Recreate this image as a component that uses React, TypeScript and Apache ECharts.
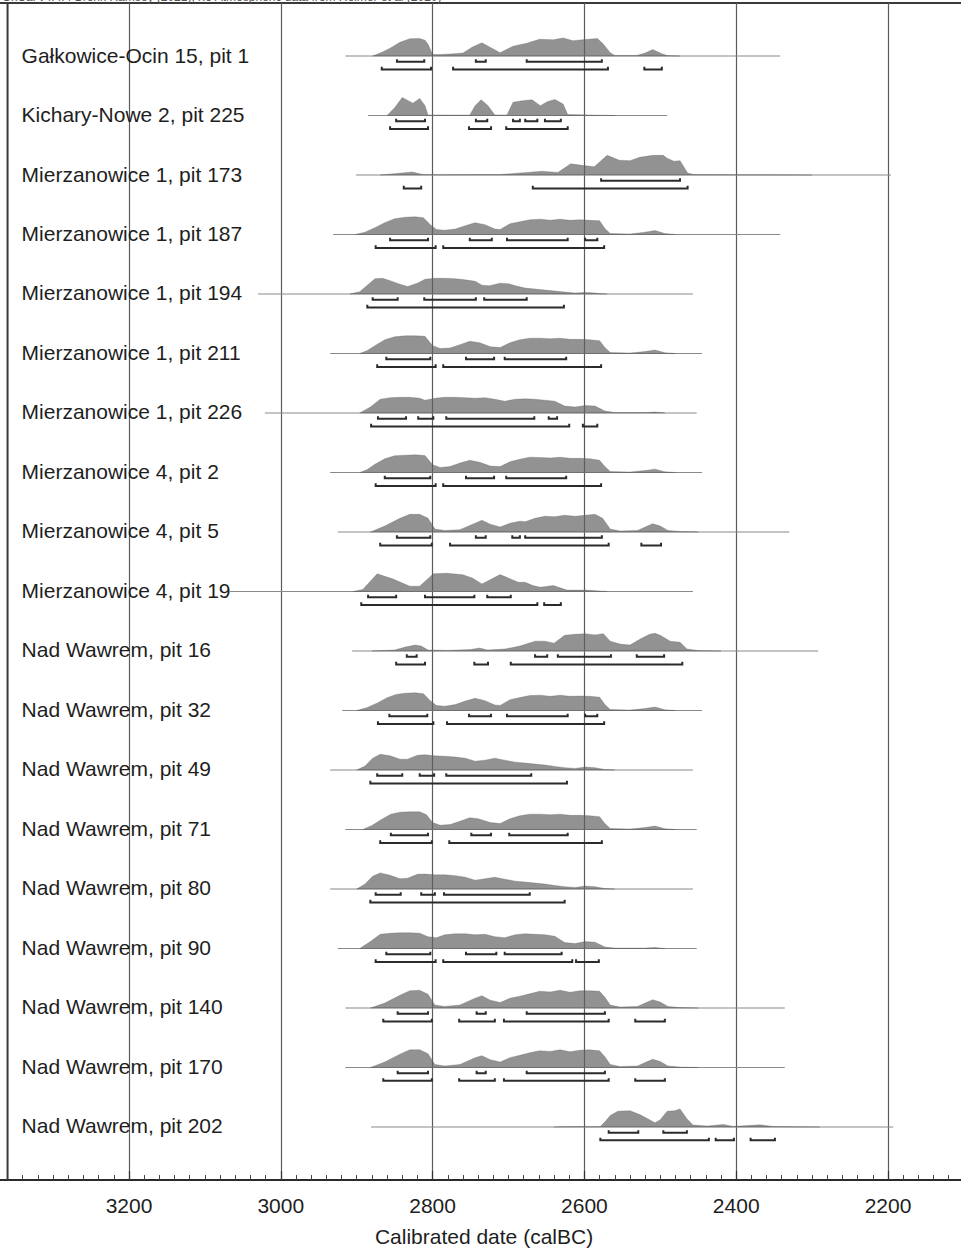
import React, { useEffect, useRef } from "react";
import * as echarts from "echarts";

const HEADER = "OxCal v4.4.4 Bronk Ramsey (2021); r:5 Atmospheric data from Reimer et al (2020)";
const AXIS_TITLE = "Calibrated date (calBC)";
const AXIS_START = 3360; // left frame of the plot (calBC)

const rowNames = [
  "Gałkowice-Ocin 15, pit 1",
  "Kichary-Nowe 2, pit 225",
  "Mierzanowice 1, pit 173",
  "Mierzanowice 1, pit 187",
  "Mierzanowice 1, pit 194",
  "Mierzanowice 1, pit 211",
  "Mierzanowice 1, pit 226",
  "Mierzanowice 4, pit 2",
  "Mierzanowice 4, pit 5",
  "Mierzanowice 4, pit 19",
  "Nad Wawrem, pit 16",
  "Nad Wawrem, pit 32",
  "Nad Wawrem, pit 49",
  "Nad Wawrem, pit 71",
  "Nad Wawrem, pit 80",
  "Nad Wawrem, pit 90",
  "Nad Wawrem, pit 140",
  "Nad Wawrem, pit 170",
  "Nad Wawrem, pit 202",
];

// extent of the thin line under each distribution (calBC)
const lineRanges: [number, number][] = [
  [2915, 2342], [2885, 2491], [2901, 2196], [2931, 2342], [3030, 2457],
  [2935, 2445], [3021, 2452], [2935, 2445], [2925, 2330], [3067, 2457],
  [2906, 2292], [2919, 2445], [2935, 2457], [2915, 2452], [2935, 2457],
  [2925, 2452], [2915, 2336], [2915, 2336], [2881, 2193],
];

// probability distributions: [calBC, relative probability]
const dist1 = [[2879,0],[2866,0.2],[2856,0.4],[2843,0.7],[2830,0.88],[2817,0.89],[2810,0.8],[2806,0.6],[2800,0.08],[2790,0.08],[2777,0.1],[2760,0.15],[2748,0.45],[2735,0.67],[2722,0.4],[2711,0.17],[2694,0.5],[2676,0.65],[2659,0.85],[2641,0.83],[2628,0.92],[2615,0.78],[2602,0.83],[2583,0.89],[2576,0.65],[2566,0.17],[2560,0.03],[2531,0.03],[2520,0.15],[2510,0.33],[2498,0.12],[2491,0.02],[2474,0]];
const dist2 = [[2860,0],[2850,0.4],[2840,0.92],[2826,0.63],[2817,0.87],[2810,0.5],[2806,0.03],[2751,0.02],[2744,0.5],[2736,0.8],[2727,0.5],[2718,0.03],[2702,0.03],[2694,0.67],[2682,0.75],[2669,0.8],[2658,0.5],[2649,0.7],[2639,0.82],[2628,0.58],[2622,0.05],[2602,0.035],[2583,0.015],[2560,0]];
const dist3 = [[2869,0],[2847,0.08],[2827,0.15],[2813,0.03],[2790,0.01],[2738,0.025],[2711,0.025],[2676,0.13],[2656,0.19],[2635,0.13],[2618,0.57],[2601,0.48],[2587,0.42],[2570,1.0],[2554,0.75],[2540,0.73],[2527,0.9],[2510,1.0],[2496,1.0],[2491,0.85],[2482,0.7],[2474,0.73],[2464,0.1],[2456,0.02],[2395,0.01],[2300,0]];
const dist4 = [[2902,0],[2889,0.12],[2876,0.35],[2863,0.6],[2850,0.8],[2836,0.88],[2823,0.9],[2812,0.85],[2803,0.5],[2795,0.25],[2784,0.22],[2770,0.28],[2757,0.45],[2744,0.6],[2731,0.5],[2718,0.28],[2711,0.25],[2698,0.55],[2685,0.65],[2672,0.75],[2658,0.78],[2645,0.73],[2632,0.78],[2619,0.72],[2606,0.75],[2593,0.72],[2580,0.7],[2573,0.3],[2566,0.05],[2540,0.02],[2520,0.12],[2507,0.2],[2494,0.05],[2480,0]];
const dist5 = [[2909,0],[2896,0.12],[2886,0.45],[2876,0.78],[2866,0.8],[2856,0.68],[2843,0.5],[2833,0.38],[2820,0.55],[2810,0.75],[2797,0.8],[2784,0.8],[2770,0.78],[2757,0.72],[2744,0.65],[2735,0.45],[2725,0.42],[2711,0.55],[2700,0.52],[2691,0.42],[2678,0.3],[2665,0.25],[2652,0.2],[2639,0.15],[2626,0.1],[2612,0.05],[2600,0.08],[2590,0.06],[2580,0.02],[2570,0]];
const dist6 = [[2896,0],[2886,0.15],[2876,0.4],[2863,0.7],[2850,0.85],[2836,0.9],[2823,0.9],[2810,0.88],[2800,0.4],[2790,0.25],[2777,0.28],[2764,0.45],[2751,0.62],[2738,0.55],[2724,0.35],[2711,0.3],[2698,0.55],[2685,0.7],[2672,0.78],[2658,0.78],[2645,0.75],[2632,0.78],[2619,0.72],[2606,0.72],[2593,0.7],[2580,0.65],[2573,0.3],[2566,0.05],[2540,0.02],[2520,0.1],[2507,0.18],[2494,0.04],[2480,0]];
const dist7 = [[2896,0],[2882,0.3],[2869,0.7],[2856,0.78],[2843,0.8],[2830,0.8],[2817,0.75],[2810,0.65],[2797,0.75],[2784,0.8],[2770,0.8],[2757,0.78],[2744,0.75],[2731,0.78],[2718,0.7],[2705,0.6],[2691,0.7],[2678,0.72],[2665,0.7],[2652,0.65],[2639,0.6],[2626,0.35],[2612,0.3],[2599,0.38],[2586,0.35],[2573,0.1],[2560,0.02],[2520,0.02],[2507,0.05],[2494,0]];
const dist8 = [[2896,0],[2886,0.15],[2876,0.42],[2863,0.7],[2850,0.85],[2836,0.88],[2823,0.9],[2810,0.86],[2800,0.4],[2790,0.26],[2777,0.3],[2764,0.48],[2751,0.62],[2738,0.52],[2724,0.33],[2711,0.3],[2698,0.55],[2685,0.68],[2672,0.78],[2658,0.76],[2645,0.74],[2632,0.78],[2619,0.72],[2606,0.72],[2593,0.7],[2580,0.62],[2573,0.3],[2566,0.05],[2540,0.02],[2520,0.1],[2507,0.17],[2494,0.04],[2480,0]];
const dist9 = [[2882,0],[2863,0.3],[2843,0.7],[2830,0.9],[2817,0.9],[2806,0.7],[2797,0.15],[2784,0.08],[2764,0.12],[2744,0.45],[2735,0.6],[2724,0.4],[2711,0.25],[2698,0.45],[2685,0.55],[2678,0.52],[2665,0.7],[2652,0.8],[2639,0.78],[2626,0.85],[2612,0.8],[2599,0.85],[2586,0.9],[2576,0.7],[2566,0.15],[2553,0.05],[2530,0.08],[2520,0.25],[2510,0.42],[2500,0.3],[2490,0.08],[2474,0.02],[2450,0]];
const dist10 = [[2905,0],[2892,0.1],[2873,0.9],[2852,0.63],[2830,0.27],[2817,0.27],[2799,0.9],[2781,0.93],[2760,0.85],[2747,0.68],[2735,0.38],[2711,0.86],[2695,0.6],[2687,0.47],[2678,0.47],[2668,0.3],[2658,0.22],[2641,0.3],[2623,0.07],[2597,0.07],[2589,0.05],[2570,0]];
const dist11 = [[2880,0],[2850,0.05],[2836,0.2],[2823,0.3],[2815,0.25],[2806,0.05],[2780,0.03],[2750,0.08],[2738,0.15],[2728,0.05],[2705,0.1],[2685,0.25],[2665,0.5],[2652,0.5],[2640,0.4],[2626,0.8],[2612,0.85],[2599,0.88],[2586,0.82],[2575,0.88],[2566,0.5],[2553,0.35],[2540,0.3],[2527,0.6],[2514,0.85],[2507,0.9],[2500,0.8],[2487,0.5],[2474,0.45],[2465,0.1],[2450,0.02],[2420,0]];
const dist12 = [[2900,0],[2886,0.15],[2872,0.4],[2860,0.65],[2848,0.82],[2836,0.88],[2823,0.9],[2812,0.85],[2803,0.5],[2795,0.25],[2784,0.22],[2770,0.3],[2757,0.48],[2744,0.62],[2731,0.5],[2718,0.28],[2711,0.26],[2698,0.55],[2685,0.66],[2672,0.76],[2658,0.78],[2645,0.72],[2632,0.78],[2619,0.72],[2606,0.74],[2593,0.72],[2580,0.68],[2573,0.3],[2566,0.05],[2540,0.02],[2520,0.1],[2507,0.18],[2494,0.04],[2480,0]];
const dist13 = [[2900,0],[2889,0.2],[2879,0.6],[2869,0.8],[2856,0.72],[2843,0.55],[2833,0.55],[2820,0.75],[2810,0.78],[2797,0.72],[2784,0.7],[2770,0.66],[2757,0.6],[2744,0.45],[2731,0.5],[2718,0.6],[2705,0.5],[2691,0.4],[2678,0.35],[2665,0.3],[2652,0.25],[2639,0.18],[2626,0.12],[2612,0.08],[2599,0.15],[2586,0.12],[2573,0.02],[2560,0]];
const dist14 = [[2892,0],[2880,0.2],[2868,0.5],[2855,0.78],[2843,0.88],[2830,0.9],[2817,0.9],[2808,0.75],[2800,0.35],[2790,0.22],[2777,0.25],[2764,0.42],[2751,0.6],[2740,0.55],[2724,0.35],[2711,0.3],[2698,0.55],[2685,0.7],[2672,0.78],[2658,0.78],[2645,0.75],[2632,0.78],[2619,0.72],[2606,0.72],[2593,0.7],[2580,0.65],[2573,0.3],[2566,0.05],[2540,0.02],[2520,0.1],[2507,0.18],[2494,0.04],[2480,0]];
const dist15 = [[2900,0],[2889,0.25],[2879,0.65],[2869,0.82],[2856,0.7],[2843,0.52],[2833,0.55],[2820,0.75],[2810,0.76],[2797,0.72],[2784,0.72],[2770,0.68],[2757,0.6],[2744,0.45],[2731,0.52],[2718,0.6],[2705,0.5],[2691,0.4],[2678,0.35],[2665,0.3],[2652,0.25],[2639,0.18],[2626,0.12],[2612,0.08],[2599,0.15],[2586,0.12],[2573,0.02],[2560,0]];
const dist16 = [[2896,0],[2882,0.35],[2869,0.72],[2856,0.78],[2843,0.8],[2830,0.8],[2817,0.78],[2806,0.6],[2795,0.55],[2784,0.7],[2770,0.75],[2757,0.75],[2744,0.7],[2731,0.72],[2718,0.6],[2705,0.55],[2691,0.7],[2678,0.75],[2665,0.72],[2652,0.7],[2639,0.62],[2626,0.3],[2612,0.25],[2599,0.35],[2586,0.32],[2573,0.08],[2560,0.02],[2520,0.02],[2507,0.05],[2494,0]];
const dist17 = [[2882,0],[2863,0.25],[2843,0.65],[2830,0.88],[2817,0.9],[2806,0.7],[2797,0.15],[2784,0.08],[2764,0.15],[2744,0.5],[2735,0.62],[2724,0.4],[2711,0.28],[2698,0.5],[2685,0.6],[2672,0.72],[2659,0.85],[2645,0.82],[2632,0.9],[2619,0.8],[2606,0.88],[2593,0.88],[2580,0.85],[2573,0.55],[2566,0.15],[2553,0.05],[2530,0.08],[2520,0.25],[2510,0.42],[2500,0.3],[2490,0.08],[2474,0.02],[2450,0]];
const dist18 = [[2882,0],[2863,0.28],[2843,0.68],[2830,0.9],[2817,0.9],[2806,0.7],[2797,0.15],[2784,0.08],[2764,0.15],[2744,0.5],[2735,0.6],[2724,0.4],[2711,0.28],[2698,0.5],[2685,0.62],[2672,0.75],[2659,0.85],[2645,0.82],[2632,0.9],[2619,0.8],[2606,0.88],[2593,0.9],[2580,0.85],[2573,0.55],[2566,0.15],[2553,0.05],[2530,0.08],[2520,0.25],[2510,0.42],[2500,0.3],[2490,0.08],[2474,0.02],[2450,0]];
const dist19 = [[2640,0],[2632,0.01],[2602,0.02],[2585,0.01],[2579,0.02],[2572,0.3],[2566,0.58],[2556,0.8],[2540,0.83],[2527,0.63],[2507,0.22],[2500,0.37],[2491,0.8],[2481,0.83],[2474,0.92],[2465,0.42],[2457,0.1],[2438,0.05],[2417,0.13],[2404,0.03],[2369,0.11],[2352,0.03],[2325,0.01],[2290,0]];

const distributions = [dist1, dist2, dist3, dist4, dist5, dist6, dist7, dist8, dist9, dist10,
  dist11, dist12, dist13, dist14, dist15, dist16, dist17, dist18, dist19];

// 68.2% highest posterior density ranges (calBC)
const ranges68: [number, number][][] = [
  [[2847,2811],[2743,2730],[2676,2577]],
  [[2848,2810],[2743,2728],[2694,2685],[2678,2662],[2652,2631]],
  [[2578,2474]],
  [[2856,2806],[2751,2722],[2702,2622],[2599,2583]],
  [[2879,2846],[2811,2743],[2732,2676]],
  [[2861,2803],[2756,2719],[2705,2624]],
  [[2872,2835],[2819,2799],[2782,2666],[2647,2636]],
  [[2863,2803],[2756,2719],[2703,2624]],
  [[2847,2803],[2743,2730],[2695,2685],[2678,2577]],
  [[2885,2848],[2810,2745],[2728,2697]],
  [[2834,2821],[2665,2649],[2635,2565],[2531,2495]],
  [[2857,2807],[2752,2723],[2702,2622],[2599,2583]],
  [[2873,2840],[2817,2798],[2782,2670]],
  [[2855,2806],[2749,2723],[2699,2622]],
  [[2875,2842],[2815,2797],[2785,2672]],
  [[2861,2803],[2756,2716],[2705,2630]],
  [[2846,2806],[2742,2730],[2676,2573]],
  [[2846,2806],[2742,2730],[2676,2573]],
  [[2568,2529],[2496,2465]],
];

// 95.4% ranges (calBC)
const ranges95: [number, number][][] = [
  [[2867,2802],[2773,2569],[2521,2498]],
  [[2856,2806],[2752,2723],[2703,2622]],
  [[2838,2815],[2668,2464]],
  [[2875,2796],[2786,2574]],
  [[2886,2627]],
  [[2873,2796],[2786,2578]],
  [[2881,2620],[2602,2583]],
  [[2875,2796],[2786,2578]],
  [[2869,2801],[2777,2568],[2525,2499]],
  [[2894,2662],[2653,2631]],
  [[2848,2810],[2745,2727],[2697,2471]],
  [[2872,2799],[2781,2574]],
  [[2882,2623]],
  [[2869,2801],[2778,2577]],
  [[2882,2626]],
  [[2875,2796],[2786,2616],[2611,2581]],
  [[2865,2801],[2765,2718],[2706,2568],[2533,2494]],
  [[2865,2801],[2765,2718],[2706,2568],[2533,2494]],
  [[2579,2436],[2427,2403],[2381,2349]],
];

const FONT = '"Liberation Sans", Arial, Helvetica, sans-serif';

export default function App() {
  const ref = useRef<HTMLDivElement>(null);
  useEffect(() => {
    if (!ref.current) return;
    const chart = echarts.init(ref.current, null, { renderer: "svg" });

    const DENS_H = 0.33; // row units for relative probability 1
    const OFF68 = 0.098;
    const OFF95 = 0.225;
    const TICK = 0.045;

    const renderRow = (params: any, api: any) => {
      const i = params.dataIndex;
      const row = api.value(1);
      const c = (yr: number, v: number) => api.coord([yr, v]);
      const children: any[] = [];
      const lp = c(AXIS_START, row);
      children.push({
        type: "text",
        x: lp[0] + 14,
        y: lp[1] - 1,
        style: { text: rowNames[i], font: `21px ${FONT}`, fill: "#1e1e1e", align: "left", verticalAlign: "middle" },
        z2: 1,
      });
      const l0 = c(lineRanges[i][0], row);
      const l1 = c(lineRanges[i][1], row);
      children.push({
        type: "line",
        shape: { x1: l0[0], y1: l0[1], x2: l1[0], y2: l1[1] },
        style: { stroke: "#8a8a8a", lineWidth: 1.2 },
        z2: 2,
      });
      const d = distributions[i];
      const pts: number[][] = [c(d[0][0], row)];
      d.forEach((p) => pts.push(c(p[0], row - p[1] * DENS_H)));
      pts.push(c(d[d.length - 1][0], row));
      children.push({
        type: "polygon",
        shape: { points: pts },
        style: { fill: "rgba(95,95,95,0.68)", stroke: "rgba(90,90,90,0.5)", lineWidth: 0.6 },
        z2: 3,
      });
      const bracket = (r: [number, number], off: number) => {
        const a = c(r[0], row + off);
        const b = c(r[1], row + off);
        const t = c(r[0], row + off - TICK)[1];
        return {
          type: "polyline",
          shape: { points: [[a[0], t], [a[0], a[1]], [b[0], b[1]], [b[0], t]] },
          style: { stroke: "#2b2b2b", lineWidth: 2, fill: null, lineJoin: "miter" },
          z2: 4,
        };
      };
      ranges68[i].forEach((r) => children.push(bracket(r, OFF68)));
      ranges95[i].forEach((r) => children.push(bracket(r, OFF95)));
      return { type: "group", children };
    };

    const renderFrame = (params: any, api: any) => {
      const cs = params.coordSys;
      const x = api.coord([api.value(0), 0])[0];
      return {
        type: "line",
        shape: { x1: x, y1: cs.y, x2: x, y2: cs.y + cs.height },
        style: { stroke: "#3a3a3a", lineWidth: 2 },
      };
    };

    chart.setOption({
      animation: false,
      backgroundColor: "#ffffff",
      grid: {
        left: -22.8,
        top: 3,
        width: 1062.6,
        height: 1177,
        show: true,
        borderColor: "#3a3a3a",
        borderWidth: 2,
        backgroundColor: "transparent",
        containLabel: false,
        outerBoundsMode: "none",
      },
      xAxis: {
        type: "value",
        min: 2000,
        max: 3400,
        interval: 200,
        inverse: true,
        axisLine: { show: true, onZero: false, lineStyle: { color: "#2b2b2b", width: 2 } },
        axisTick: { show: true, inside: true, length: 9, lineStyle: { color: "#333", width: 1.2 } },
        minorTick: { show: true, splitNumber: 10, length: 5, lineStyle: { color: "#444", width: 1 } },
        axisLabel: {
          show: true,
          fontSize: 21,
          fontFamily: FONT,
          color: "#1e1e1e",
          margin: 15,
          showMinLabel: false,
          showMaxLabel: false,
          formatter: (v: number) => String(v),
        },
        splitLine: { show: true, lineStyle: { color: "#5c5c5c", width: 1.2 } },
      },
      yAxis: {
        type: "value",
        min: -0.8908,
        max: 18.891,
        inverse: true,
        show: false,
        splitLine: { show: false },
        axisLine: { onZero: false },
      },
      graphic: [
        {
          type: "text",
          x: 2,
          y: -9,
          style: { text: HEADER, font: `12px ${FONT}`, fill: "#555" },
        },
        {
          type: "text",
          x: 484,
          y: 1236,
          style: { text: AXIS_TITLE, font: `21px ${FONT}`, fill: "#1e1e1e", align: "center", verticalAlign: "middle" },
        },
      ],
      series: [
        {
          type: "custom",
          renderItem: renderRow,
          data: rowNames.map((_, i) => [lineRanges[i][0], i]),
          encode: { x: 0, y: 1 },
          clip: false,
          z: 3,
        },
        {
          type: "custom",
          renderItem: renderFrame,
          data: [[AXIS_START, 0]],
          encode: { x: 0, y: 1 },
          clip: false,
          z: 4,
        },
      ],
    });
    return () => chart.dispose();
  }, []);

  return (
    <div
      ref={ref}
      style={{ position: "fixed", left: 0, top: 0, width: 961, height: 1248, background: "#fff" }}
    />
  );
}
